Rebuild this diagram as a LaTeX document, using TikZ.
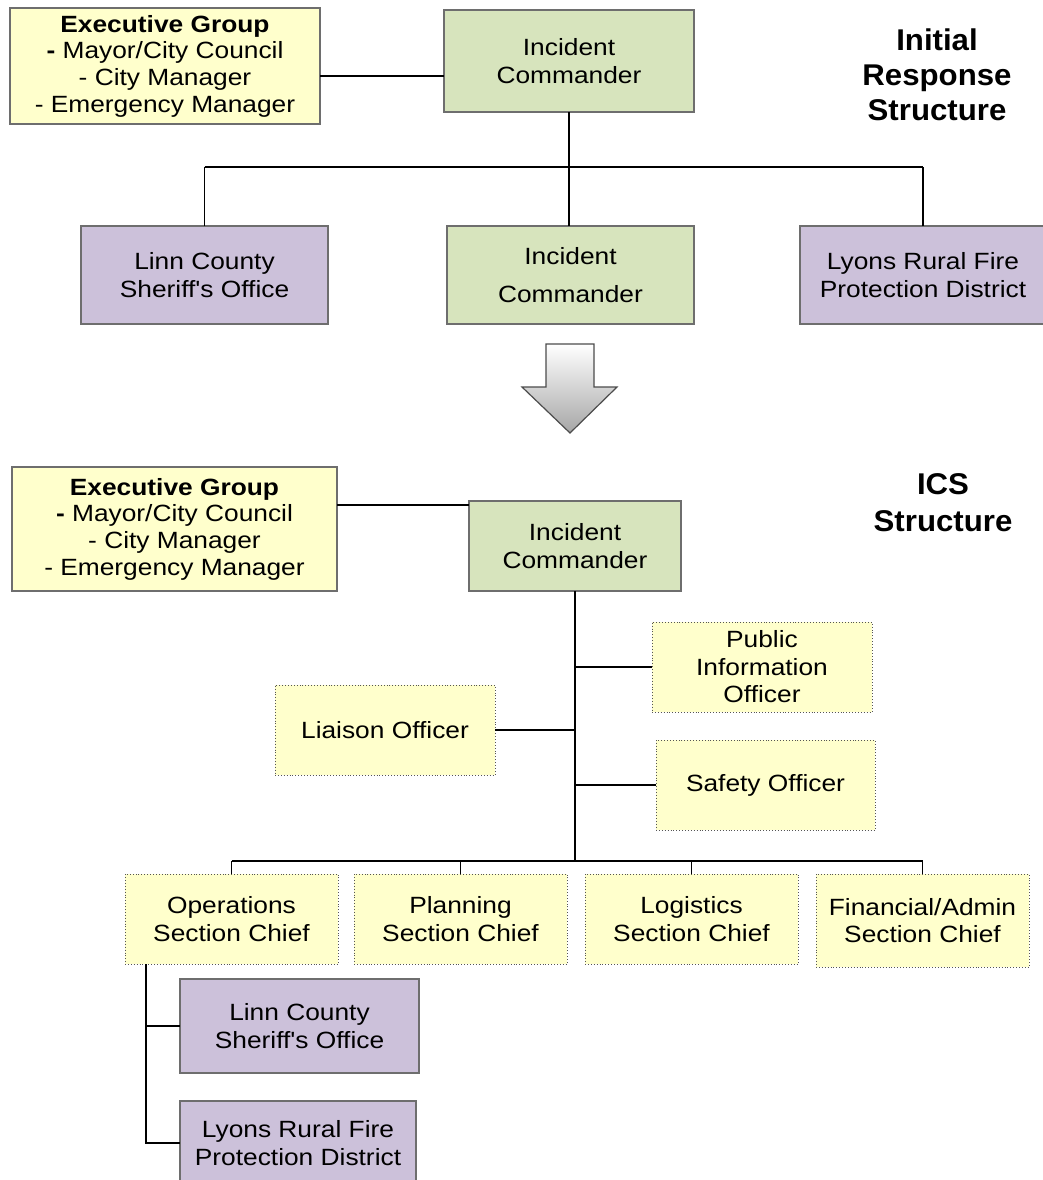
\documentclass[tikz,border=0pt]{standalone}
\usepackage{fontspec}
\setmainfont{Liberation Sans}[FakeStretch=1.12,Ligatures=TeXOff]
\newfontfamily\titlefont{Liberation Sans}[FakeStretch=1.04,Ligatures=TeXOff]
\definecolor{yfill}{HTML}{FFFFCC}
\definecolor{gfill}{HTML}{D7E4BD}
\definecolor{pfill}{HTML}{CCC1DA}
\definecolor{bord}{HTML}{6E6E6E}
\definecolor{dotb}{HTML}{555555}
\begin{document}
\begin{tikzpicture}[x=1pt,y=-1pt,
  every node/.style={inner sep=0pt, outer sep=0pt},
  box/.style={rectangle, anchor=north west, align=center, draw=bord, line width=1.2pt,
    font=\fontsize{23.5}{27.5}\selectfont},
  ybox/.style={box, fill=yfill},
  gbox/.style={box, fill=gfill},
  pbox/.style={box, fill=pfill},
  dbox/.style={box, fill=yfill, draw=dotb, line width=0.9pt, dotted},
  title/.style={align=center, font=\titlefont\fontsize{30}{35}\selectfont\bfseries},
  conn/.style={draw=black, line width=1.6pt},
  conn1/.style={draw=black, line width=1.3pt}
]
\useasboundingbox (0,0) rectangle (1043,1180);
\fill[white] (0,0) rectangle (1043,1180);

% ---------- Initial response structure ----------
\node[ybox, minimum width=310pt, minimum height=116pt, font=\fontsize{23.5}{26.7}\selectfont] (exec1) at (10,8)
  {\textbf{Executive Group}\\\textbf{-} Mayor/City Council\\- City Manager\\- Emergency Manager};
\node[gbox, minimum width=250pt, minimum height=102pt] (ic1) at (444,10)
  {Incident\\Commander};
\node[title] (t1) at (937,75) {Initial\\Response\\Structure};

\node[pbox, minimum width=247pt, minimum height=98pt] (linn1) at (81,226)
  {Linn County\\Sheriff's Office};
\node[gbox, minimum width=247pt, minimum height=98pt] (ic1b) at (447,226)
  {Incident\\[10.5pt]Commander};
\node[pbox, minimum width=246pt, minimum height=98pt] (lyons1) at (800,226)
  {Lyons Rural Fire\\Protection District};

\coordinate (c76) at (0,76);
\coordinate (bar1) at (0,167);
\draw[conn] (exec1.east |- c76) -- (ic1.west |- c76);
\draw[conn1] (ic1.south) -- (ic1.south |- ic1b.north);
\draw[conn1] (linn1.north |- bar1) -- (lyons1.north |- bar1);
\draw[conn1] (linn1.north) -- (linn1.north |- bar1);
\draw[conn1] (lyons1.north) -- (lyons1.north |- bar1);

% big arrow
\shade[top color=white, bottom color=black!35, draw=black!70, line width=1.2pt]
  (546,344) -- (594,344) -- (594,387) -- (617,387) -- (570,433) -- (522,387) -- (546,387) -- cycle;

% ---------- ICS structure ----------
\node[ybox, minimum width=325pt, minimum height=124pt, font=\fontsize{23.5}{26.7}\selectfont] (exec2) at (12,467)
  {\textbf{Executive Group}\\\textbf{-} Mayor/City Council\\- City Manager\\- Emergency Manager};
\node[gbox, minimum width=212pt, minimum height=90pt] (ic2) at (469,501)
  {Incident\\Commander};
\node[title, font=\titlefont\fontsize{30}{37}\selectfont\bfseries] (t2) at (943,503) {ICS\\Structure};

\node[dbox, minimum width=220pt, minimum height=90pt] (pio) at (652,622)
  {Public\\Information\\Officer};
\node[dbox, minimum width=220pt, minimum height=90pt] (liaison) at (275,685)
  {Liaison Officer};
\node[dbox, minimum width=219pt, minimum height=90pt] (safety) at (656,740)
  {Safety Officer};

\node[dbox, minimum width=213pt, minimum height=90pt] (ops) at (125,874)
  {Operations\\Section Chief};
\node[dbox, minimum width=213pt, minimum height=90pt] (plan) at (354,874)
  {Planning\\Section Chief};
\node[dbox, minimum width=213pt, minimum height=90pt] (logi) at (585,874)
  {Logistics\\Section Chief};
\node[dbox, minimum width=213pt, minimum height=93pt] (fin) at (816,874)
  {Financial/Admin\\Section Chief};

\node[pbox, minimum width=239pt, minimum height=94pt] (linn2) at (180,979)
  {Linn County\\Sheriff's Office};
\node[pbox, minimum width=236pt, minimum height=84pt] (lyons2) at (180,1101)
  {Lyons Rural Fire\\Protection District};

\coordinate (c505) at (0,505);
\coordinate (bar2) at (0,861);
\coordinate (opsdrop) at ([xshift=21pt]ops.south west);
\draw[conn] (exec2.east |- c505) -- (ic2.west |- c505);
\draw[conn1] (ic2.south) -- (ic2.south |- bar2);
\draw[conn] (pio.west) -- (pio.west -| ic2.south);
\draw[conn] (liaison.east) -- (liaison.east -| ic2.south);
\draw[conn] (safety.west) -- (safety.west -| ic2.south);
\draw[conn1] (ops.north |- bar2) -- (fin.north |- bar2);
\draw[conn1] (ops.north) -- (ops.north |- bar2);
\draw[conn1] (plan.north) -- (plan.north |- bar2);
\draw[conn1] (logi.north) -- (logi.north |- bar2);
\draw[conn1] (fin.north) -- (fin.north |- bar2);
\draw[conn] (opsdrop) |- (lyons2.west);
\draw[conn] (opsdrop |- linn2.west) -- (linn2.west);
\end{tikzpicture}
\end{document}
